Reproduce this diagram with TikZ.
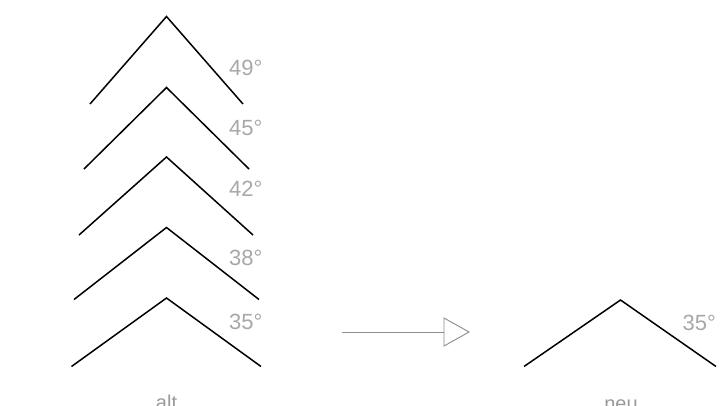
\documentclass[tikz,border=0pt]{standalone}
\usepackage{fontspec}
\setmainfont{Liberation Sans}
\definecolor{lbl}{HTML}{A8A8A8}
\definecolor{cap}{HTML}{999999}
\definecolor{arr}{HTML}{8C8C8C}
\begin{document}
\begin{tikzpicture}[x=1pt,y=-1pt,
  chev/.style={line width=1.5pt,black,line join=miter},
  deg/.style={anchor=west,inner sep=0pt,text=lbl,font=\fontsize{22}{22}\selectfont},
  capt/.style={anchor=base,inner sep=0pt,text=cap,font=\fontsize{20}{20}\selectfont}]
\useasboundingbox (0,0) rectangle (720,405);
% old chevrons
\draw[chev] (90,104) -- (166.5,16.5) -- (243,104);
\draw[chev] (84,169) -- (166.5,87.5) -- (249,169);
\draw[chev] (79,235) -- (166.5,157) -- (253,235);
\draw[chev] (74,299.5) -- (166.5,227.5) -- (259,299.5);
\draw[chev] (71.5,366.5) -- (166.5,298) -- (261,366.5);
\node[deg] (l49) at (229,68) {49°};
\node[deg] (l45) at (229,127.5) {45°};
\node[deg] (l42) at (229,189) {42°};
\node[deg] (l38) at (229,257.5) {38°};
\node[deg] (l35) at (229,321.5) {35°};
\node[capt] (alt) at (166.5,409) {alt};
% arrow
\coordinate (as) at (342,332);
\coordinate (ae) at (444,332);
\draw[arr,line width=1pt] (as) -- (ae);
\draw[arr,line width=0.9pt,line join=miter] (444,318) -- (469,332) -- (444,346) -- cycle;
% new chevron
\draw[chev] (524,366.5) -- (620.5,300) -- (716,366.5);
\node[deg] (n35) at (682.5,323) {35°};
\node[capt] (neu) at (621,410) {neu};
\end{tikzpicture}
\end{document}
